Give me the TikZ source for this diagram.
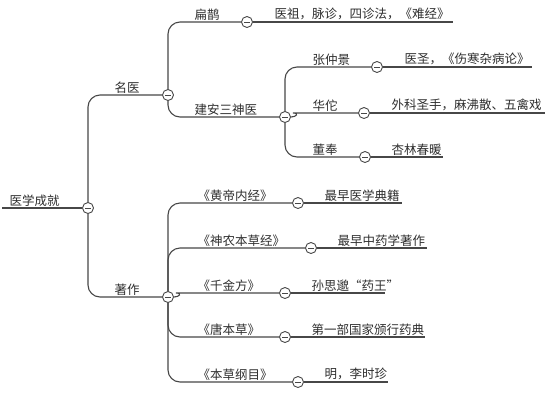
\documentclass[tikz,border=0pt]{standalone}
\usepackage{fontspec}
\setmainfont{Noto Sans CJK SC}

\begin{document}
\begin{tikzpicture}[x=1pt, y=-1pt,
    link/.style={draw=black!72, line width=1.1pt, rounded corners=12pt},
    btn/.style={circle, draw=black!72, line width=0.9pt, fill=white, minimum size=11pt, inner sep=0pt,
        path picture={\draw [black!72, line width=0.9pt] ([xshift=-2.6pt]path picture bounding box.center) -- ([xshift=2.6pt]path picture bounding box.center);}},
    topic/.style={anchor=south west, inner sep=1.5pt, text=black!82, font=\fontsize{12.5}{15}\selectfont}]
    \useasboundingbox (0, 0) rectangle (558, 392);

    % Root
    \coordinate (root-s) at (2, 208);
    \node [btn] (root-b) at (88, 208) {};
    \node [topic] (root) at (8, 208) {医学成就};
    \draw [link] (root-s) -- (root-b.west);

    % Level 1
    \node [btn] (mingyi-b) at (168, 95) {};
    \node [topic] (mingyi) at (113, 95) {名医};
    \node [btn] (zhuzuo-b) at (168, 297) {};
    \node [topic] (zhuzuo) at (113, 297) {著作};
    \draw [link] (root-b.north) |- (mingyi-b.west);
    \draw [link] (root-b.south) |- (zhuzuo-b.west);

    % Famous doctors
    \node [btn] (bianque-b) at (247, 22) {};
    \node [topic] (bianque) at (193, 22) {扁鹊};
    \node [btn] (jianan-b) at (285, 117) {};
    \node [topic] (jianan) at (193, 117) {建安三神医};
    \draw [link] (mingyi-b.north) |- (bianque-b.west);
    \draw [link] (mingyi-b.south) |- (jianan-b.west);

    \node [btn] (zhang-b) at (377, 67) {};
    \node [topic] (zhang) at (311, 67) {张仲景};
    \node [btn] (huatuo-b) at (364, 113) {};
    \node [topic] (huatuo) at (311, 113) {华佗};
    \node [btn] (dongfeng-b) at (365, 157) {};
    \node [topic] (dongfeng) at (311, 157) {董奉};
    \draw [link] (jianan-b.north) |- (zhang-b.west);
    \draw [link] (jianan-b.east) to [out=0, in=180] ++(14, -4) -- (huatuo-b.west);
    \draw [link] (jianan-b.south) |- (dongfeng-b.west);

    % Books
    \node [btn] (huangdi-b) at (298, 203) {};
    \node [topic] (huangdi) at (196, 203) {《黄帝内经》};
    \node [btn] (shennong-b) at (311, 248) {};
    \node [topic] (shennong) at (196, 248) {《神农本草经》};
    \node [btn] (qianjin-b) at (285, 293) {};
    \node [topic] (qianjin) at (196, 293) {《千金方》};
    \node [btn] (tang-b) at (285, 337) {};
    \node [topic] (tang) at (196, 337) {《唐本草》};
    \node [btn] (gangmu-b) at (298, 382) {};
    \node [topic] (gangmu) at (196, 382) {《本草纲目》};
    \draw [link] (zhuzuo-b.north) |- (huangdi-b.west);
    \draw [link] (zhuzuo-b.north) |- (shennong-b.west);
    \draw [link] (zhuzuo-b.east) to [out=0, in=180] ++(14, -4) -- (qianjin-b.west);
    \draw [link] (zhuzuo-b.south) |- (tang-b.west);
    \draw [link] (zhuzuo-b.south) |- (gangmu-b.west);

    % Leaves
    \coordinate (bianque-e) at (453, 22);
    \node [topic] (bianque-t) at (273, 22) {医祖，脉诊，四诊法，《难经》};
    \coordinate (zhang-e) at (532, 67);
    \node [topic] (zhang-t) at (403, 67) {医圣，《伤寒杂病论》};
    \coordinate (huatuo-e) at (545, 113);
    \node [topic] (huatuo-t) at (390, 113) {外科圣手，麻沸散、五禽戏};
    \coordinate (dongfeng-e) at (443, 157);
    \node [topic] (dongfeng-t) at (390, 157) {杏林春暖};
    \coordinate (huangdi-e) at (402, 203);
    \node [topic] (huangdi-t) at (323, 203) {最早医学典籍};
    \coordinate (shennong-e) at (427, 248);
    \node [topic] (shennong-t) at (336, 248) {最早中药学著作};
    \coordinate (qianjin-e) at (385, 293);
    \node [topic] (qianjin-t) at (310, 293) {孙思邈“药王”};
    \coordinate (tang-e) at (425, 337);
    \node [topic] (tang-t) at (310, 337) {第一部国家颁行药典};
    \coordinate (gangmu-e) at (388, 382);
    \node [topic] (gangmu-t) at (323, 382) {明，李时珍};
    \foreach \n in {bianque, zhang, huatuo, dongfeng, huangdi, shennong, qianjin, tang, gangmu}
        \draw [link] (\n-b.east) -- (\n-e);
\end{tikzpicture}
\end{document}
